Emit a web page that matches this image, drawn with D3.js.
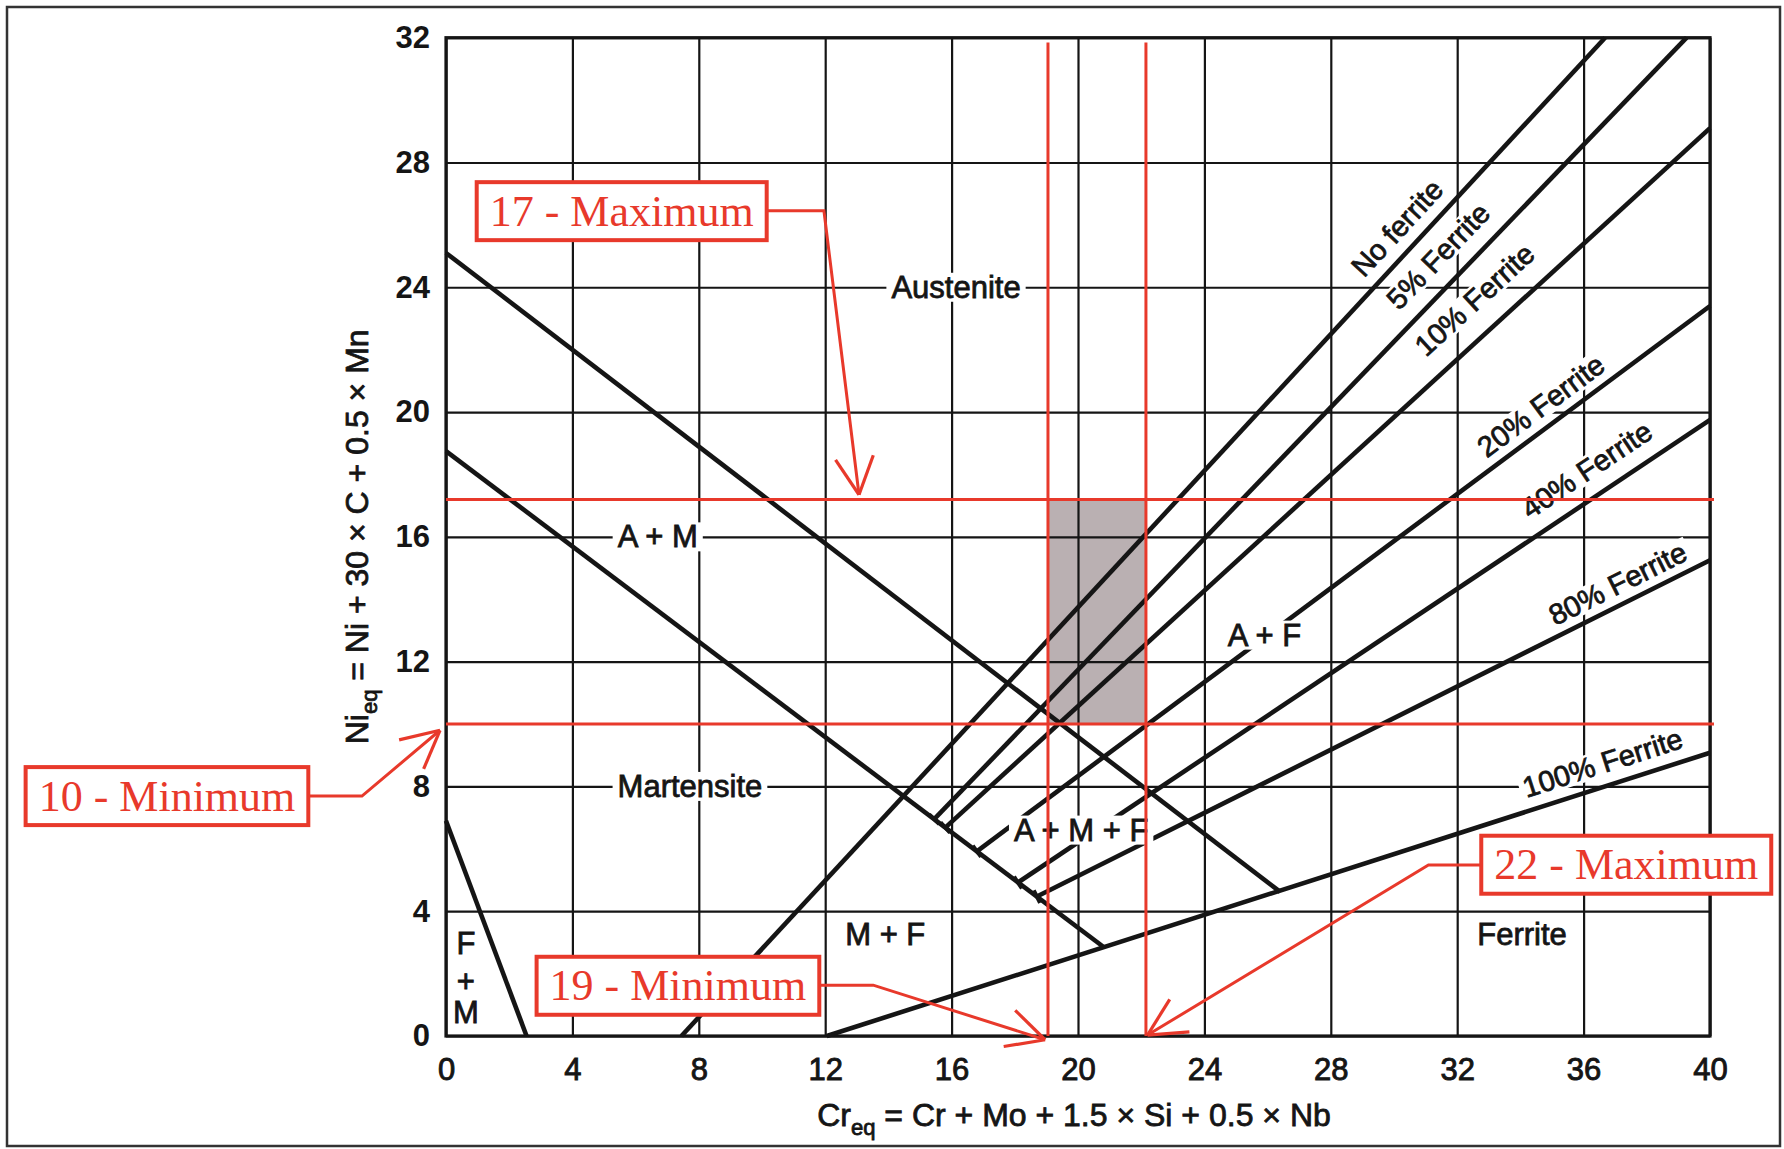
<!DOCTYPE html>
<meta charset="utf-8">
<title>Schaeffler diagram</title>
<script src="https://d3js.org/d3.v7.min.js"></script>
<style>
  body { margin: 0; background: #fff; }
  svg text { font-family: "Liberation Sans", Arial, sans-serif; }
</style>
<div id="my_dataviz"></div>
<script>
  // ---------- data: points are [Cr_eq, Ni_eq] ----------
  var xTicks = [0, 4, 8, 12, 16, 20, 24, 28, 32, 36, 40];
  var yTicks = [0, 4, 8, 12, 16, 20, 24, 28, 32];

  // phase boundaries
  var austeniteBoundary = [[0, 25.1], [26.4, 4.62]];   // A / A+M
  var martensiteBoundary = [[0, 18.75], [20.8, 2.86]]; // A+M / M
  var ferriteMartensite = [[0, 6.9], [2.55, 0]];       // M / F+M

  // iso-ferrite lines
  var noFerrite = [[7.45, 0], [36.68, 32]];
  var ferrite5 = [[15.45, 6.95], [39.26, 32]];
  var ferrite10 = [[15.8, 6.68], [40, 29.1]];
  var ferrite20 = [[16.8, 5.92], [40, 23.4]];
  var ferrite40 = [[18.1, 4.92], [40, 19.75]];
  var ferrite80 = [[18.7, 4.47], [40, 15.25]];
  var ferrite100 = [[12.05, 0], [40, 9.08]];
  var ferriteNames = ["No ferrite", "5% Ferrite", "10% Ferrite", "20% Ferrite",
                      "40% Ferrite", "80% Ferrite", "100% Ferrite"];

  var regionNames = ["Austenite", "A + M", "Martensite", "A + F", "A + M + F",
                     "M + F", "Ferrite", "F", "+", "M"];

  // composition window marked in red
  var niMin = 10, niMax = 17.2, crMin = 19.05, crMax = 22.15;
  var calloutTexts = ["17 - Maximum", "10 - Minimum", "19 - Minimum", "22 - Maximum"];

  // ---------- layout (in data units) ----------
  var ferriteLabelPos = [[30.1, 25.9], [31.4, 25.0], [32.55, 23.6], [34.65, 20.2],
                         [36.1, 18.15], [37.08, 14.5], [36.6, 8.75]];
  var regionLabelPos = [[16.14, 24], [6.7, 16], [7.72, 8], [25.9, 12.85], [20.1, 6.6],
                        [13.9, 3.24], [34.05, 3.24], [0.63, 2.98], [0.63, 1.76], [0.63, 0.74]];
  var calloutLayout = [
    {box: [5.56, 26.44], elbow: [11.96, 26.45], tip: [13.07, 17.35]},
    {box: [-8.83, 7.69], elbow: [-2.66, 7.69], tip: [-0.19, 9.8]},
    {box: [7.34, 1.61], elbow: [13.52, 1.63], tip: [18.96, -0.12]},
    {box: [37.35, 5.49], elbow: [31.09, 5.48], tip: [22.2, 0.03]}
  ];

  var red = "#e8392b", ink = "#151515";
  var W = 1784, H = 1149;

  var x = d3.scaleLinear().domain([0, 40]).range([446, 1710]);
  var y = d3.scaleLinear().domain([0, 32]).range([1036, 37.7]);
  var line = d3.line().x(function(d) { return x(d[0]); }).y(function(d) { return y(d[1]); });

  var svg = d3.select("#my_dataviz").append("svg")
    .attr("width", W).attr("height", H);

  // label with a white rectangle behind it (breaks grid / lines like the print)
  function boxedLabel(parent, txt, cx, cy, angle, size, pad) {
    var g = parent.append("g")
      .attr("transform", "translate(" + cx + "," + cy + ") rotate(" + angle + ")");
    var r = g.append("rect").attr("fill", "#fff");
    var t = g.append("text")
      .attr("text-anchor", "middle").attr("dominant-baseline", "central")
      .attr("font-size", size).attr("fill", ink)
      .attr("stroke", ink).attr("stroke-width", 0.8)
      .text(txt);
    var bb = t.node().getBBox();
    r.attr("x", bb.x - pad).attr("y", bb.y + 3).attr("width", bb.width + 2 * pad).attr("height", bb.height - 6);
    return g;
  }

  // outer frame
  svg.append("rect")
    .attr("x", 7).attr("y", 7).attr("width", 1773).attr("height", 1139)
    .attr("fill", "#fff").attr("stroke", "#333").attr("stroke-width", 2.5);

  // shaded window
  svg.append("rect")
    .attr("x", x(crMin)).attr("y", y(niMax))
    .attr("width", x(crMax) - x(crMin)).attr("height", y(niMin) - y(niMax))
    .attr("fill", "#bab0b2");

  // grid + tick labels via axes
  var gx = svg.append("g")
    .attr("transform", "translate(0," + y(0) + ")")
    .call(d3.axisBottom(x).tickValues(xTicks).tickSize(-(y(0) - y(32))).tickPadding(22).tickFormat(d3.format("d")));
  gx.select(".domain").remove();
  gx.selectAll(".tick line").attr("stroke", ink).attr("stroke-width", 2.2);
  gx.selectAll(".tick text").attr("font-size", 31).attr("fill", ink)
    .attr("stroke", ink).attr("stroke-width", 0.9)
    .style("font-family", "'Liberation Sans', Arial, sans-serif");

  var gy = svg.append("g")
    .attr("transform", "translate(" + x(0) + ",0)")
    .call(d3.axisLeft(y).tickValues(yTicks).tickSize(-(x(40) - x(0))).tickPadding(16).tickFormat(d3.format("d")));
  gy.select(".domain").remove();
  gy.selectAll(".tick line").attr("stroke", ink).attr("stroke-width", 2.2);
  gy.selectAll(".tick text").attr("font-size", 31).attr("font-weight", "bold").attr("fill", ink)
    .style("font-family", "'Liberation Sans', Arial, sans-serif");

  // plot border
  svg.append("rect")
    .attr("x", x(0)).attr("y", y(32))
    .attr("width", x(40) - x(0)).attr("height", y(0) - y(32))
    .attr("fill", "none").attr("stroke", ink).attr("stroke-width", 3.2);

  // axis titles
  var xt = svg.append("text")
    .attr("x", 1074).attr("y", 1126)
    .attr("text-anchor", "middle").attr("font-size", 32).attr("fill", ink)
    .attr("stroke", ink).attr("stroke-width", 0.8);
  xt.append("tspan").text("Cr");
  xt.append("tspan").attr("font-size", 22).attr("dy", 9).text("eq");
  xt.append("tspan").attr("dy", -9).text(" = Cr + Mo + 1.5 × Si + 0.5 × Nb");

  var yt = svg.append("text")
    .attr("transform", "translate(368," + ((y(0) + y(32)) / 2) + ") rotate(-90)")
    .attr("text-anchor", "middle").attr("font-size", 32).attr("fill", ink)
    .attr("stroke", ink).attr("stroke-width", 0.8);
  yt.append("tspan").text("Ni");
  yt.append("tspan").attr("font-size", 22).attr("dy", 9).text("eq");
  yt.append("tspan").attr("dy", -9).text(" = Ni + 30 × C + 0.5 × Mn");

  // iso-ferrite labels (drawn under the lines, they only break the grid)
  var ferriteLines = [noFerrite, ferrite5, ferrite10, ferrite20, ferrite40, ferrite80, ferrite100];
  ferriteNames.forEach(function(name, i) {
    var p = ferriteLines[i];
    var ang = Math.atan2(y(p[1][1]) - y(p[0][1]), x(p[1][0]) - x(p[0][0])) * 180 / Math.PI;
    boxedLabel(svg, name, x(ferriteLabelPos[i][0]), y(ferriteLabelPos[i][1]), ang, 29, 4);
  });

  // phase boundary lines
  var boundaries = [austeniteBoundary, martensiteBoundary, ferriteMartensite].concat(ferriteLines);
  svg.append("g").selectAll("path")
    .data(boundaries).join("path")
      .attr("d", line)
      .attr("fill", "none").attr("stroke", ink).attr("stroke-width", 4.6);

  // small end ticks where ferrite lines stop on the martensite boundary
  [ferrite5, ferrite10, ferrite20, ferrite40, ferrite80].forEach(function(p) {
    var x0 = x(p[0][0]), y0 = y(p[0][1]);
    var a = Math.atan2(y(p[1][1]) - y0, x(p[1][0]) - x0) + Math.PI / 2;
    var L = 7;
    svg.append("line")
      .attr("x1", x0 - L * Math.cos(a)).attr("y1", y0 - L * Math.sin(a))
      .attr("x2", x0 + L * Math.cos(a)).attr("y2", y0 + L * Math.sin(a))
      .attr("stroke", ink).attr("stroke-width", 4);
  });

  // region labels (on top, they break the boundary lines)
  regionNames.forEach(function(name, i) {
    boxedLabel(svg, name, x(regionLabelPos[i][0]), y(regionLabelPos[i][1]), 0, 31, 5);
  });

  // red limit lines
  var redG = svg.append("g").attr("stroke", red).attr("stroke-width", 3);
  [niMin, niMax].forEach(function(v) {
    redG.append("line").attr("x1", x(0)).attr("x2", x(40) + 4).attr("y1", y(v)).attr("y2", y(v));
  });
  [crMin, crMax].forEach(function(v) {
    redG.append("line").attr("x1", x(v)).attr("x2", x(v)).attr("y1", y(0)).attr("y2", y(31.85));
  });

  // callouts
  calloutTexts.forEach(function(t, i) {
    var c = calloutLayout[i];
    var g = svg.append("g");
    var bx = x(c.box[0]), by = y(c.box[1]);
    var ex = x(c.elbow[0]), ey = y(c.elbow[1]);
    var tx = x(c.tip[0]), ty = y(c.tip[1]);
    g.append("polyline")
      .attr("points", [[bx, ey], [ex, ey], [tx, ty]].join(" "))
      .attr("fill", "none").attr("stroke", red).attr("stroke-width", 3);
    var back = Math.atan2(ey - ty, ex - tx);
    [-0.47, 0.47].forEach(function(da) {
      g.append("line")
        .attr("x1", tx).attr("y1", ty)
        .attr("x2", tx + 42 * Math.cos(back + da)).attr("y2", ty + 42 * Math.sin(back + da))
        .attr("stroke", red).attr("stroke-width", 3.2);
    });
    var box = g.append("rect").attr("fill", "#fff").attr("stroke", red).attr("stroke-width", 4);
    var label = g.append("text")
      .attr("x", bx).attr("y", by)
      .attr("text-anchor", "middle").attr("dominant-baseline", "central")
      .attr("font-size", 44).attr("fill", red)
      .style("font-family", "'Liberation Serif', 'Times New Roman', serif")
      .text(t);
    var bb = label.node().getBBox();
    box.attr("x", bx - bb.width / 2 - 13).attr("y", by - 29)
      .attr("width", bb.width + 26).attr("height", 58);
  });
</script>
